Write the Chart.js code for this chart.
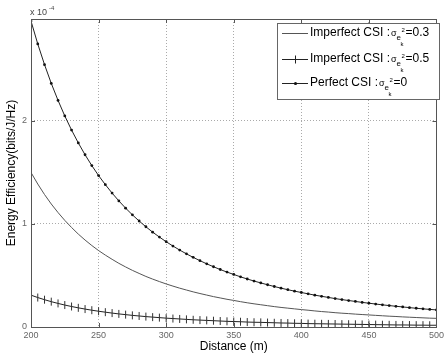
<!DOCTYPE html>
<html>
<head>
<meta charset="utf-8">
<script src="https://cdn.jsdelivr.net/npm/chart.js"></script>
<style>
  html, body { margin: 0; padding: 0; background: #fff; }
  #wrap { width: 447px; height: 358px; }
</style>
</head>
<body>
<div id="wrap"><canvas id="chart" width="447" height="358"></canvas></div>
<script>
// distance (m), step 5
const distances = [];
for (let d = 200; d <= 500; d += 5) distances.push(d);

// energy efficiency, units of 1e-4 bits/J/Hz
const perfectCsi = [
  2.97, 2.748, 2.547, 2.365, 2.200, 2.049, 1.912, 1.787, 1.672, 1.567,
  1.470, 1.382, 1.300, 1.224, 1.154, 1.089, 1.029, 0.973, 0.921, 0.873,
  0.828, 0.786, 0.747, 0.710, 0.676, 0.644, 0.613, 0.585, 0.558, 0.533,
  0.510, 0.487, 0.466, 0.446, 0.428, 0.410, 0.393, 0.377, 0.362, 0.348,
  0.335, 0.322, 0.309, 0.298, 0.287, 0.276, 0.266, 0.257, 0.248, 0.239,
  0.231, 0.223, 0.215, 0.208, 0.201, 0.195, 0.188, 0.182, 0.176, 0.171,
  0.166
];
const imperfect03 = [
  1.50, 1.388, 1.286, 1.194, 1.111, 1.035, 0.966, 0.902, 0.844, 0.791,
  0.742, 0.698, 0.657, 0.618, 0.583, 0.550, 0.520, 0.491, 0.465, 0.441,
  0.418, 0.397, 0.377, 0.359, 0.341, 0.325, 0.310, 0.295, 0.282, 0.269,
  0.258, 0.246, 0.235, 0.225, 0.216, 0.207, 0.198, 0.190, 0.183, 0.176,
  0.169, 0.163, 0.156, 0.150, 0.145, 0.139, 0.134, 0.130, 0.125, 0.121,
  0.117, 0.113, 0.109, 0.105, 0.102, 0.098, 0.095, 0.092, 0.089, 0.086,
  0.084
];
const imperfect05 = [
  0.309, 0.286, 0.265, 0.246, 0.229, 0.213, 0.199, 0.186, 0.174, 0.163,
  0.153, 0.144, 0.135, 0.127, 0.120, 0.113, 0.107, 0.101, 0.096, 0.091,
  0.086, 0.082, 0.078, 0.074, 0.070, 0.067, 0.064, 0.061, 0.058, 0.055,
  0.053, 0.051, 0.048, 0.046, 0.045, 0.043, 0.041, 0.039, 0.038, 0.036,
  0.035, 0.033, 0.032, 0.031, 0.030, 0.029, 0.028, 0.027, 0.026, 0.025,
  0.024, 0.023, 0.022, 0.021, 0.020, 0.020, 0.019, 0.018, 0.018, 0.017,
  0.017
];
const legendLabels = ['Imperfect CSI :', 'Imperfect CSI :', 'Perfect CSI :'];
const legendValues = ['=0.3', '=0.5', '=0'];

const pts = arr => arr.map((v, i) => ({ x: distances[i], y: v }));
const FONT = '"Liberation Sans", Arial, sans-serif';

// box, inward ticks, exponent note and legend (matlab look)
const matlabFrame = {
  id: 'matlabFrame',
  afterDraw(chart) {
    const { ctx, chartArea: a, scales } = chart;
    ctx.save();
    ctx.strokeStyle = '#555';
    ctx.lineWidth = 1;
    ctx.setLineDash([]);
    ctx.strokeRect(Math.round(a.left) + 0.5, Math.round(a.top) + 0.5,
      Math.round(a.right - a.left), Math.round(a.bottom - a.top));

    ctx.beginPath();
    scales.x.ticks.forEach(t => {
      const x = Math.round(scales.x.getPixelForValue(t.value)) + 0.5;
      ctx.moveTo(x, a.bottom); ctx.lineTo(x, a.bottom - 4);
      ctx.moveTo(x, a.top); ctx.lineTo(x, a.top + 4);
    });
    scales.y.ticks.forEach(t => {
      const y = Math.round(scales.y.getPixelForValue(t.value)) + 0.5;
      ctx.moveTo(a.left, y); ctx.lineTo(a.left + 4, y);
      ctx.moveTo(a.right, y); ctx.lineTo(a.right - 4, y);
    });
    ctx.stroke();

    // x 10^-4
    ctx.fillStyle = '#444';
    ctx.textBaseline = 'alphabetic';
    ctx.font = '9px ' + FONT;
    ctx.fillText('x 10', a.left - 1, a.top - 4);
    ctx.font = '6px ' + FONT;
    ctx.fillText('-4', a.left + 18, a.top - 9);

    // legend
    const lx = 277, ly = 23, lw = 162, lh = 76;
    ctx.fillStyle = '#fff';
    ctx.fillRect(lx, ly, lw, lh);
    ctx.strokeStyle = '#666';
    ctx.strokeRect(lx + 0.5, ly + 0.5, lw, lh);

    const rows = [33, 59, 83];
    const styles = [
      { color: '#555', marker: null },
      { color: '#222', marker: 'cross' },
      { color: '#222', marker: 'dot' }
    ];
    rows.forEach((ry, i) => {
      const s = styles[i];
      const yy = ry + 0.5;
      ctx.strokeStyle = s.color;
      ctx.beginPath();
      ctx.moveTo(282, yy); ctx.lineTo(308, yy);
      ctx.stroke();
      if (s.marker === 'cross') {
        ctx.beginPath();
        ctx.moveTo(295.5, yy - 4); ctx.lineTo(295.5, yy + 4);
        ctx.stroke();
      } else if (s.marker === 'dot') {
        ctx.fillStyle = '#111';
        ctx.beginPath();
        ctx.arc(295.5, yy, 1.6, 0, Math.PI * 2);
        ctx.fill();
      }
      ctx.fillStyle = '#000';
      ctx.textBaseline = 'middle';
      ctx.font = '12px ' + FONT;
      let x = 310;
      ctx.fillText(legendLabels[i], x, ry);
      x += ctx.measureText(legendLabels[i]).width + 1;
      ctx.font = '9px ' + FONT;
      ctx.fillText('\u03c3', x, ry + 1);
      x += ctx.measureText('\u03c3').width;
      ctx.font = '8px ' + FONT;
      ctx.fillText('e', x, ry + 5);
      ctx.font = '6px ' + FONT;
      ctx.fillText('k', x + 4, ry + 11);
      ctx.fillText('2', x + 5, ry - 3);
      x += 9;
      ctx.font = '12px ' + FONT;
      ctx.fillText(legendValues[i], x, ry);
    });
    ctx.restore();
  }
};

const gridOpts = {
  color: '#aaa',
  lineWidth: 1,
  drawTicks: false
};

new Chart(document.getElementById('chart'), {
  type: 'line',
  data: {
    datasets: [
      {
        label: 'Imperfect CSI 0.3',
        data: pts(imperfect03),
        borderColor: '#555',
        borderWidth: 1,
        pointRadius: 0,
        tension: 0
      },
      {
        label: 'Imperfect CSI 0.5',
        data: pts(imperfect05),
        borderColor: '#222',
        borderWidth: 1,
        pointStyle: 'line',
        pointRotation: 90,
        pointRadius: 4,
        pointBorderColor: '#333',
        pointBorderWidth: 1,
        tension: 0
      },
      {
        label: 'Perfect CSI',
        data: pts(perfectCsi),
        borderColor: '#222',
        borderWidth: 1,
        pointStyle: 'circle',
        pointRadius: 1.4,
        pointBackgroundColor: '#111',
        pointBorderColor: '#111',
        pointBorderWidth: 0,
        tension: 0
      }
    ]
  },
  options: {
    responsive: false,
    animation: false,
    devicePixelRatio: 1,
    layout: { padding: { top: 19, right: 7, left: 0, bottom: 0 } },
    plugins: {
      legend: { display: false },
      tooltip: { enabled: false }
    },
    scales: {
      x: {
        type: 'linear',
        min: 200,
        max: 500,
        grid: gridOpts,
        border: { display: false, dash: [1, 2] },
        ticks: {
          stepSize: 50,
          padding: 3,
          maxRotation: 0,
          color: '#666',
          font: { family: FONT, size: 9 }
        },
        title: {
          display: true,
          text: 'Distance (m)',
          color: '#000',
          padding: { top: 0, bottom: 4 },
          font: { family: FONT, size: 12 }
        },
        afterFit(scale) { scale.height = 31; }
      },
      y: {
        type: 'linear',
        min: 0,
        max: 2.99,
        grid: gridOpts,
        border: { display: false, dash: [1, 2] },
        ticks: {
          stepSize: 1,
          includeBounds: false,
          padding: 4,
          color: '#666',
          font: { family: FONT, size: 9 }
        },
        title: {
          display: true,
          text: 'Energy Efficiency(bits/J/Hz)',
          color: '#000',
          padding: { top: 4, bottom: 0 },
          font: { family: FONT, size: 12 }
        },
        afterFit(scale) { scale.width = 31; }
      }
    }
  },
  plugins: [matlabFrame]
});
</script>
</body>
</html>
